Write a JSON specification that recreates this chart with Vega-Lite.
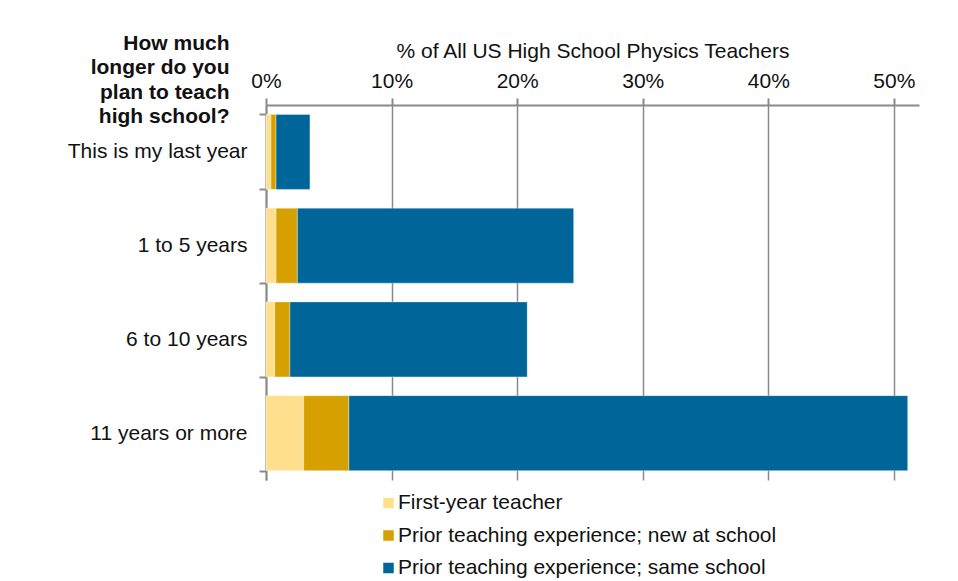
{
  "$schema": "https://vega.github.io/schema/vega-lite/v6.json",
  "width": 653,
  "height": 375,
  "autosize": "none",
  "padding": {"left": 266, "top": 105, "right": 39, "bottom": 101},
  "background": "white",
  "data": {
    "values": [
      {"plan": "This is my last year", "group": "First-year teacher", "order": 1, "pct": 0.4},
      {"plan": "This is my last year", "group": "Prior teaching experience; new at school", "order": 2, "pct": 0.4},
      {"plan": "This is my last year", "group": "Prior teaching experience; same school", "order": 3, "pct": 2.7},
      {"plan": "1 to 5 years", "group": "First-year teacher", "order": 1, "pct": 0.8},
      {"plan": "1 to 5 years", "group": "Prior teaching experience; new at school", "order": 2, "pct": 1.7},
      {"plan": "1 to 5 years", "group": "Prior teaching experience; same school", "order": 3, "pct": 22.0},
      {"plan": "6 to 10 years", "group": "First-year teacher", "order": 1, "pct": 0.7},
      {"plan": "6 to 10 years", "group": "Prior teaching experience; new at school", "order": 2, "pct": 1.2},
      {"plan": "6 to 10 years", "group": "Prior teaching experience; same school", "order": 3, "pct": 18.9},
      {"plan": "11 years or more", "group": "First-year teacher", "order": 1, "pct": 3.0},
      {"plan": "11 years or more", "group": "Prior teaching experience; new at school", "order": 2, "pct": 3.6},
      {"plan": "11 years or more", "group": "Prior teaching experience; same school", "order": 3, "pct": 44.5}
    ]
  },
  "mark": {"type": "bar", "stroke": "#ffffff", "strokeWidth": 0.6, "strokeOpacity": 0.6},
  "encoding": {
    "y": {
      "field": "plan",
      "type": "nominal",
      "sort": null,
      "scale": {"paddingInner": 0.2, "paddingOuter": 0.1},
      "axis": {
        "title": ["How much", "longer do you", "plan to teach", "high school?"],
        "titleAngle": 0,
        "titleAlign": "right",
        "titleBaseline": "alphabetic",
        "titleX": -37,
        "titleY": -56,
        "titleLineHeight": 24.5,
        "titleFont": "Liberation Sans",
        "titleFontSize": 21,
        "titleFontWeight": "bold",
        "titleColor": "#111111",
        "labelFont": "Liberation Sans",
        "labelFontSize": 21,
        "labelColor": "#111111",
        "labelPadding": 12,
        "labelLimit": 300,
        "tickBand": "extent",
        "tickSize": 7,
        "tickColor": "#8a8a8a",
        "tickWidth": 2,
        "domainColor": "#8a8a8a",
        "domainWidth": 2,
        "grid": false
      }
    },
    "x": {
      "field": "pct",
      "type": "quantitative",
      "stack": "zero",
      "scale": {"domain": [0, 52], "nice": false},
      "axis": {
        "orient": "top",
        "title": "% of All US High School Physics Teachers",
        "titleFont": "Liberation Sans",
        "titleFontSize": 21,
        "titleFontWeight": "normal",
        "titleColor": "#111111",
        "titlePadding": 9,
        "values": [0, 10, 20, 30, 40, 50],
        "labelExpr": "datum.value + '%'",
        "labelFlush": false,
        "labelFont": "Liberation Sans",
        "labelFontSize": 21,
        "labelColor": "#111111",
        "labelPadding": 7,
        "tickSize": 7,
        "tickColor": "#8a8a8a",
        "tickWidth": 2,
        "domainColor": "#8a8a8a",
        "domainWidth": 2,
        "grid": true,
        "gridColor": "#8a8a8a",
        "gridWidth": 1.5
      }
    },
    "color": {
      "field": "group",
      "type": "nominal",
      "sort": ["First-year teacher", "Prior teaching experience; new at school", "Prior teaching experience; same school"],
      "scale": {
        "domain": ["First-year teacher", "Prior teaching experience; new at school", "Prior teaching experience; same school"],
        "range": ["#FEDF8D", "#D6A000", "#006699"]
      },
      "legend": {
        "orient": "none",
        "legendX": 112,
        "legendY": 387.5,
        "direction": "vertical",
        "title": null,
        "padding": 0,
        "symbolType": "square",
        "symbolSize": 110,
        "symbolStrokeWidth": 0,
        "labelFont": "Liberation Sans",
        "labelFontSize": 21,
        "labelColor": "#111111",
        "labelOffset": -1,
        "labelLimit": 600,
        "rowPadding": 10.5
      }
    },
    "order": {"field": "order", "type": "quantitative"}
  },
  "config": {
    "view": {"stroke": null}
  }
}
